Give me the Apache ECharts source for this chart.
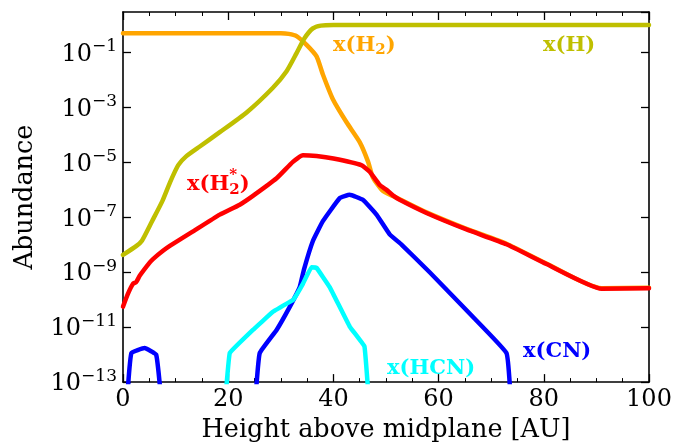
<!DOCTYPE html>
<html><head><meta charset="utf-8">
<script src="https://cdn.jsdelivr.net/npm/echarts@6/dist/echarts.min.js"></script>
<style>html,body{margin:0;padding:0;background:#fff}#c{width:696px;height:448px}</style>
</head><body><div id="c"></div>
<script>
// Heights [AU] and log10(abundance)
const xTicks = [0, 20, 40, 60, 80, 100];

const hH   = [0, 2.5, 3.6, 5.5, 7.5, 9.0, 10.5, 12.0, 14.6, 18.4, 23.5, 28.5, 31.1, 33.0, 34.5, 36.1, 37.6, 40, 100];
const logH = [-8.37, -8.05, -7.85, -7.15, -6.4, -5.7, -5.1, -4.78, -4.42, -3.9, -3.18, -2.28, -1.68, -1.02, -0.48, -0.12, -0.02, 0, 0];

const hH2   = [0, 30, 31.5, 33, 34.9, 36.8, 38.0, 39.9, 42.5, 45.0, 46.6, 47.5, 49.4, 51.3, 52.6, 57.7, 65.3, 72.9, 80.5, 91.0, 100];
const logH2 = [-0.30, -0.30, -0.32, -0.40, -0.72, -1.14, -1.80, -2.70, -3.54, -4.26, -4.98, -5.55, -6.04, -6.22, -6.34, -6.82, -7.42, -7.96, -8.68, -9.58, -9.56];

const hH2s   = [0, 0.95, 1.9, 2.5, 3.2, 5.1, 5.7, 7.6, 8.9, 13, 18.4, 22.2, 24.7, 29.2, 32.3, 34.2, 36.8, 40, 45.3, 46.9, 48.8, 50.1, 51.3, 52.6, 57.7, 65.3, 72.9, 80.5, 91.0, 100];
const logH2s = [-10.25, -9.78, -9.42, -9.36, -9.12, -8.64, -8.52, -8.22, -8.04, -7.55, -6.9, -6.54, -6.22, -5.58, -4.98, -4.74, -4.77, -4.86, -5.10, -5.34, -5.82, -6.0, -6.2, -6.36, -6.84, -7.44, -7.98, -8.70, -9.6, -9.58];

const hCN   = [0.9, 1.6, 4.1, 6.3, 7.1, 15, 25.3, 26.0, 29.2, 31.7, 33.6, 34.4, 36.1, 38.0, 41.2, 43.1, 45.6, 48.2, 50.7, 53.0, 58.3, 66.5, 72.9, 73.6];
const logCN = [-13.3, -11.94, -11.76, -12.0, -13.3, '-', -13.3, -11.94, -11.1, -10.26, -9.54, -8.9, -7.86, -7.14, -6.30, -6.18, -6.36, -6.90, -7.62, -8.0, -9.0, -10.62, -11.94, -13.3];

const hHCN   = [19.6, 20.3, 24.7, 28.5, 31.7, 32.3, 34.2, 35.8, 36.8, 39.3, 43.1, 45.9, 46.6];
const logHCN = [-13.3, -11.94, -11.10, -10.44, -10.08, -10.02, -9.42, -8.82, -8.84, -9.54, -10.98, -11.70, -13.3];

const yMin = -13, yMax = Math.log10(3), yStep = 2;

const pairs = (xs, ys) => xs.map((x, i) => [x, ys[i]]);
const SERIF = '"DejaVu Serif", serif';

const chart = echarts.init(document.getElementById('c'), null, {renderer: 'canvas'});

function yLabel(v) {
  const r = Math.round(v);
  if (Math.abs(v - r) > 1e-6) return '';
  return '{b|10}{s|' + (r < 0 ? '\u2212' : '') + Math.abs(r) + '}';
}

const common = {
  axisLine: {show: true, onZero: false, lineStyle: {color: '#000', width: 1.6}},
  axisTick: {show: true, inside: true, length: 8, lineStyle: {color: '#000', width: 1.3}},
  splitLine: {show: false}
};

const xBase = Object.assign({}, common, {
  type: 'value', min: xTicks[0], max: xTicks[xTicks.length - 1], interval: 20,
  minorTick: {show: true, splitNumber: 4, length: 4, lineStyle: {color: '#000', width: 1}},
  minorSplitLine: {show: false}
});
const yBase = Object.assign({}, common, {
  type: 'value', min: yMin, max: yMax, interval: yStep
});

function lineSeries(name, xs, ys, color, smooth) {
  return {
    name, type: 'line', data: pairs(xs, ys), showSymbol: false, symbol: 'none',
    smooth: smooth, clip: true, connectNulls: false,
    lineStyle: {color, width: 4.5, join: 'round', cap: 'round'},
    itemStyle: {color}, animation: false
  };
}

const option = {
  animation: false,
  backgroundColor: '#fff',
  grid: {left: 123, top: 12, width: 526, height: 374},
  xAxis: [
    Object.assign({}, xBase, {
      position: 'bottom',
      axisLabel: {fontFamily: SERIF, fontSize: 24, color: '#000', margin: 6},
      name: 'Height above midplane [AU]', nameLocation: 'middle', nameGap: 31,
      nameTextStyle: {fontFamily: SERIF, fontSize: 25.5, color: '#000'}
    }),
    Object.assign({}, xBase, {position: 'top', axisLabel: {show: false}})
  ],
  yAxis: [
    Object.assign({}, yBase, {
      position: 'left',
      axisLabel: {
        formatter: yLabel, showMaxLabel: false, margin: 6,
        rich: {
          b: {fontFamily: SERIF, fontSize: 24, color: '#000', lineHeight: 28, verticalAlign: 'bottom'},
          s: {fontFamily: SERIF, fontSize: 17, color: '#000', lineHeight: 17, verticalAlign: 'top'}
        }
      },
      name: 'Abundance', nameLocation: 'middle', nameGap: 85, nameRotate: 90,
      nameTextStyle: {fontFamily: SERIF, fontSize: 25.5, color: '#000'}
    }),
    Object.assign({}, yBase, {position: 'right', axisLabel: {show: false}})
  ],
  series: [
    lineSeries('x(H2)', hH2, logH2, '#FFA500', 0.2),
    lineSeries('x(H)', hH, logH, '#BFBF00', 0.2),
    lineSeries('x(H2*)', hH2s, logH2s, '#FF0000', 0.15),
    lineSeries('x(CN)', hCN, logCN, '#0000FF', 0.1),
    lineSeries('x(HCN)', hHCN, logHCN, '#00FFFF', 0.05)
  ]
};

// Annotation labels built from pieces (main text, subscripts, superscripts)
const mctx = document.createElement('canvas').getContext('2d');
function fontOf(size) { return 'bold ' + size + 'px ' + SERIF; }
function makeLabel(parts, x0, yMid, color) {
  const els = [];
  let x = x0, lastX = x0;
  parts.forEach(p => {
    const f = fontOf(p.size);
    mctx.font = f;
    const w = mctx.measureText(p.t).width;
    const px = p.overlay ? lastX : x;
    els.push({
      type: 'text', x: px, y: yMid + (p.dy || 0), silent: true,
      style: {text: p.t, font: f, fill: color, align: 'left', verticalAlign: 'middle',
              textAlign: 'left', textVerticalAlign: 'middle'}
    });
    if (!p.overlay) { lastX = x; x += w; }
  });
  return els;
}
const graphics = [].concat(
  makeLabel([{t: 'x(H', size: 21}, {t: '2', size: 15, dy: 4}, {t: ')', size: 21}], 333, 46, '#FFA500'),
  makeLabel([{t: 'x(H)', size: 21}], 543, 46, '#BFBF00'),
  makeLabel([{t: 'x(H', size: 21}, {t: '2', size: 15, dy: 5}, {t: '*', size: 15, dy: -10, overlay: true}, {t: ')', size: 21}], 187, 185, '#FF0000'),
  makeLabel([{t: 'x(CN)', size: 21}], 523, 352, '#0000FF'),
  makeLabel([{t: 'x(HCN)', size: 21}], 387, 369, '#00FFFF')
);
option.graphic = {elements: graphics};

chart.setOption(option);
</script>
</body></html>
